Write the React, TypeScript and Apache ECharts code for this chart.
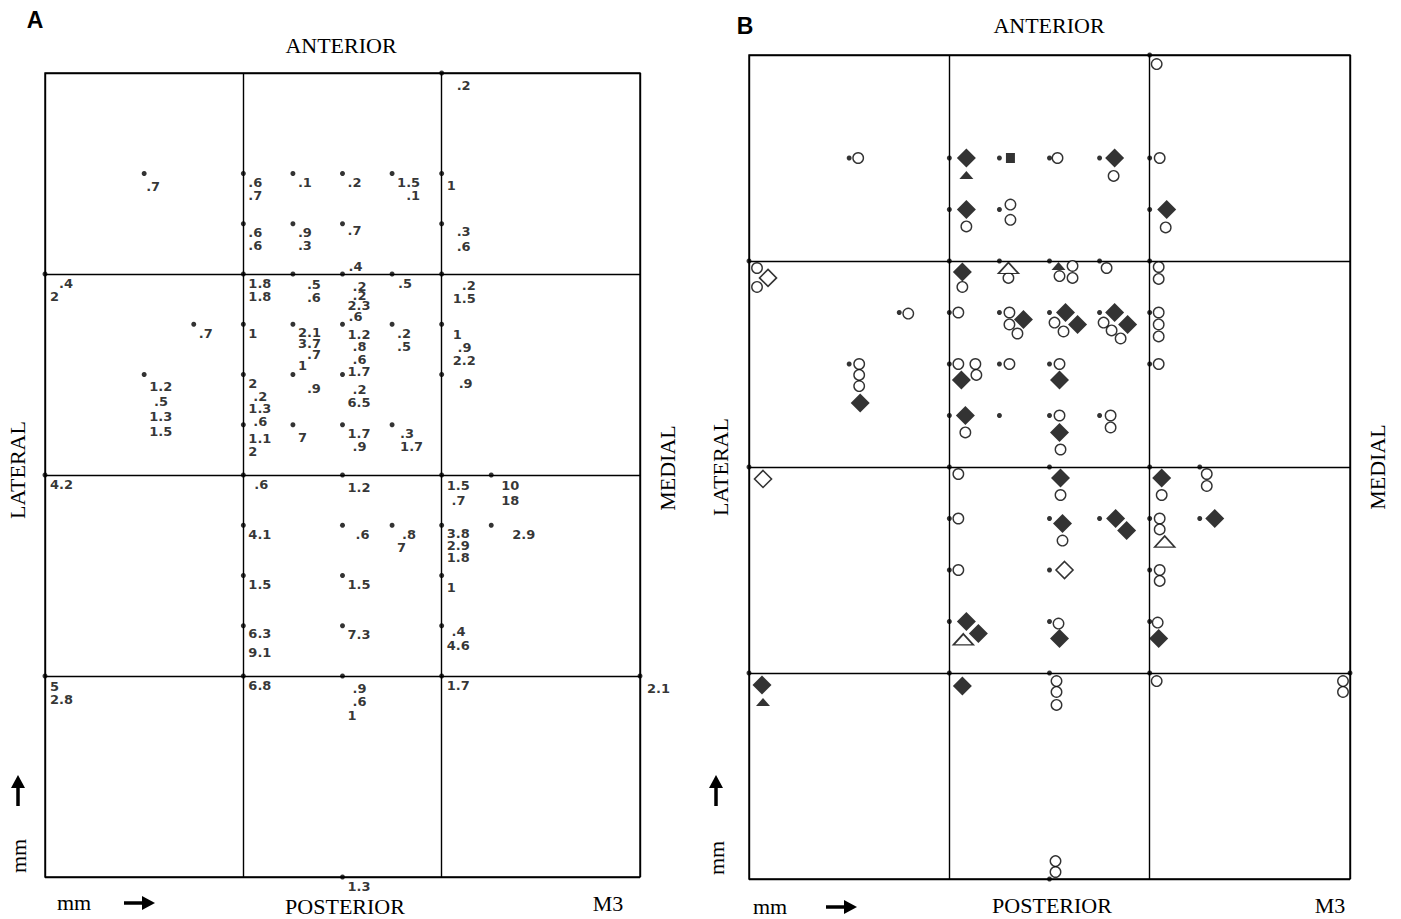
import React, { useEffect, useRef } from "react";
import * as echarts from "echarts";

// ---------- Panel A: sites [x mm lateral->medial, y mm anterior->posterior, values below, values above]
const sitesA: [number, number, string[], string[]?][] = [
  [2, 0, [".2"]],
  [0.5, 0.5, [".7"]],
  [1, 0.5, [".6", ".7"]],
  [1.25, 0.5, [".1"]],
  [1.5, 0.5, [".2"]],
  [1.75, 0.5, ["1.5", "\u2007.1"]],
  [2, 0.5, ["1"]],
  [1, 0.75, [".6", ".6"]],
  [1.25, 0.75, [".9", ".3"]],
  [1.5, 0.75, [".7"]],
  [2, 0.75, [".3", ".6"]],
  [0, 1, ["\u2007.4", "2"]],
  [1, 1, ["1.8", "1.8"]],
  [1.25, 1, [".5", ".6"]],
  [1.5, 1, ["\u2008.2", "\u2008.2", "2.3"], [".4"]],
  [1.75, 1, [".5"]],
  [2, 1, ["\u2007.2", "1.5"]],
  [0.75, 1.25, [".7"]],
  [1, 1.25, ["1"]],
  [1.25, 1.25, ["2.1", "3.7", "\u2007.7", "1"]],
  [1.5, 1.25, ["1.2", "\u2008.8", "\u2008.6", "1.7"], [".6"]],
  [1.75, 1.25, [".2", ".5"]],
  [2, 1.25, ["1", "\u2008.9", "2.2"]],
  [0.5, 1.5, ["1.2", "\u2008.5", "1.3", "1.5"]],
  [1, 1.5, ["2", "\u2008.2", "1.3", "\u2008.6"]],
  [1.25, 1.5, [".9"]],
  [1.5, 1.5, ["\u2008.2", "6.5"]],
  [2, 1.5, [".9"]],
  [1, 1.75, ["1.1", "2"]],
  [1.25, 1.75, ["7"]],
  [1.5, 1.75, ["1.7", "\u2008.9"]],
  [1.75, 1.75, [".3", "1.7"]],
  [0, 2, ["4.2"]],
  [1, 2, [".6"]],
  [1.5, 2, ["1.2"]],
  [2, 2, ["1.5", "\u2008.7"]],
  [2.25, 2, ["10", "18"]],
  [1, 2.25, ["4.1"]],
  [1.5, 2.25, [".6"]],
  [1.75, 2.25, ["\u2008.8", "7"]],
  [2, 2.25, ["3.8", "2.9", "1.8"]],
  [2.25, 2.25, ["2.9"]],
  [1, 2.5, ["1.5"]],
  [1.5, 2.5, ["1.5"]],
  [2, 2.5, ["1"]],
  [1, 2.75, ["6.3", "9.1"]],
  [1.5, 2.75, ["7.3"]],
  [2, 2.75, ["\u2008.4", "4.6"]],
  [0, 3, ["5", "2.8"]],
  [1, 3, ["6.8"]],
  [1.5, 3, ["\u2008.9", "\u2008.6", "1"]],
  [2, 3, ["1.7"]],
  [3, 3, ["2.1"]],
  [1.5, 4, ["1.3"]],
];

// label layout tweaks (px), kept apart from the data: extra x/y shift and line height
const labelTweak: Record<string, { dx?: number; dy?: number; lh?: number }> = {
  "2,0": { dx: 10, dy: 3.5 },
  "0.5,0.5": { dx: -3, dy: 4 },
  "2,0.5": { dy: 3 },
  "2,0.75": { dx: 10, dy: -2, lh: 15 },
  "1.5,0.75": { dy: -2 },
  "1.25,1": { dx: 9, dy: 1 },
  "1.5,1": { dy: 5, lh: 9.5 },
  "1.75,1": { dx: 1 },
  "2,1": { dx: 6, dy: 2 },
  "1.25,1.25": { lh: 11 },
  "1.5,1.25": { lh: 12.3, dy: 1.5 },
  "2,1.25": { dx: 6, dy: 1.5 },
  "2,1.5": { dx: 12 },
  "0.5,1.5": { lh: 15, dy: 2 },
  "1,1.5": { lh: 12.7 },
  "1.25,1.5": { dx: 9, dy: 5 },
  "1.5,1.5": { dy: 6 },
  "1,1.75": { dy: 5 },
  "1.25,1.75": { dy: 4 },
  "1.75,1.75": { dx: 3 },
  "1,2": { dx: 6 },
  "1.5,2": { dy: 3 },
  "2,2": { lh: 15 },
  "2.25,2": { dx: 5, lh: 15 },
  "1.5,2.25": { dx: 8 },
  "2,2.25": { lh: 12 },
  "2.25,2.25": { dx: 16 },
  "2,2.5": { dy: 3 },
  "1,2.75": { lh: 18.7, dy: -4 },
  "2,2.75": { lh: 14.3, dy: -4 },
  "0,3": { lh: 13, dy: 1 },
  "1.5,3": { lh: 13.3, dy: 3.5 },
  "3,3": { dx: 2, dy: 3.5 },
};

// ---------- Panel B: sites with marks [kind, dx mm, dy mm]
// D filled diamond, d open diamond, o open circle, S filled square, T filled triangle, t open triangle
type Kind = "D" | "d" | "o" | "S" | "T" | "t";
const sitesB: [number, number, [Kind, number, number][]][] = [
  [0.5, 0.5, [["o", 0.045, 0]]],
  [1, 0.5, [["D", 0.085, 0], ["T", 0.085, 0.082]]],
  [1.25, 0.5, [["S", 0.055, 0]]],
  [1.5, 0.5, [["o", 0.04, 0]]],
  [1.75, 0.5, [["D", 0.075, 0], ["o", 0.07, 0.087]]],
  [2, 0.5, [["o", 0.05, 0]]],
  [2, 0, [["o", 0.035, 0.044]]],
  [1, 0.75, [["D", 0.085, 0], ["o", 0.085, 0.082]]],
  [1.25, 0.75, [["o", 0.055, -0.024], ["o", 0.055, 0.05]]],
  [2, 0.75, [["D", 0.085, 0], ["o", 0.08, 0.087]]],
  [0, 1, [["o", 0.04, 0.034], ["d", 0.095, 0.082], ["o", 0.04, 0.126]]],
  [1, 1, [["D", 0.065, 0.053], ["o", 0.065, 0.126]]],
  [1.25, 1, [["t", 0.045, 0.034], ["o", 0.045, 0.082]]],
  [1.5, 1, [["T", 0.045, 0.024], ["o", 0.115, 0.024], ["o", 0.05, 0.073], ["o", 0.115, 0.082]]],
  [1.75, 1, [["o", 0.035, 0.034]]],
  [2, 1, [["o", 0.045, 0.029], ["o", 0.045, 0.087]]],
  [0.75, 1.25, [["o", 0.045, 0.005]]],
  [1, 1.25, [["o", 0.045, 0]]],
  [1.25, 1.25, [["o", 0.05, 0], ["o", 0.05, 0.058], ["o", 0.09, 0.102], ["D", 0.12, 0.034]]],
  [1.5, 1.25, [["D", 0.08, 0], ["o", 0.025, 0.049], ["o", 0.07, 0.092], ["D", 0.14, 0.058]]],
  [1.75, 1.25, [["D", 0.075, 0], ["o", 0.02, 0.049], ["o", 0.06, 0.087], ["o", 0.105, 0.126], ["D", 0.14, 0.058]]],
  [2, 1.25, [["o", 0.045, 0], ["o", 0.045, 0.058], ["o", 0.045, 0.116]]],
  [0.5, 1.5, [["o", 0.05, 0], ["o", 0.05, 0.053], ["o", 0.05, 0.107], ["D", 0.055, 0.189]]],
  [1, 1.5, [["o", 0.045, 0], ["o", 0.13, 0], ["o", 0.135, 0.053], ["D", 0.06, 0.078]]],
  [1.25, 1.5, [["o", 0.05, 0]]],
  [1.5, 1.5, [["o", 0.05, 0], ["D", 0.05, 0.078]]],
  [2, 1.5, [["o", 0.045, 0]]],
  [1, 1.75, [["D", 0.08, 0], ["o", 0.08, 0.082]]],
  [1.25, 1.75, []],
  [1.5, 1.75, [["o", 0.05, 0], ["D", 0.05, 0.082], ["o", 0.055, 0.165]]],
  [1.75, 1.75, [["o", 0.055, 0], ["o", 0.055, 0.058]]],
  [0, 2, [["d", 0.07, 0.058]]],
  [1, 2, [["o", 0.045, 0.034]]],
  [1.5, 2, [["D", 0.055, 0.053], ["o", 0.055, 0.136]]],
  [2, 2, [["D", 0.06, 0.053], ["o", 0.06, 0.136]]],
  [2.25, 2, [["o", 0.035, 0.034], ["o", 0.035, 0.092]]],
  [1, 2.25, [["o", 0.045, 0]]],
  [1.5, 2.25, [["D", 0.065, 0.024], ["o", 0.065, 0.107]]],
  [1.75, 2.25, [["D", 0.08, 0], ["D", 0.135, 0.058]]],
  [2, 2.25, [["o", 0.05, 0], ["o", 0.05, 0.053], ["t", 0.075, 0.112]]],
  [2.25, 2.25, [["D", 0.075, 0]]],
  [1, 2.5, [["o", 0.045, 0]]],
  [1.5, 2.5, [["d", 0.075, 0]]],
  [2, 2.5, [["o", 0.05, 0], ["o", 0.05, 0.053]]],
  [1, 2.75, [["D", 0.085, 0], ["D", 0.145, 0.058], ["t", 0.07, 0.087]]],
  [1.5, 2.75, [["o", 0.045, 0.01], ["D", 0.05, 0.082]]],
  [2, 2.75, [["o", 0.04, 0.005], ["D", 0.045, 0.082]]],
  [0, 3, [["D", 0.065, 0.058], ["T", 0.07, 0.141]]],
  [1, 3, [["D", 0.065, 0.063]]],
  [1.5, 3, [["o", 0.035, 0.039], ["o", 0.035, 0.092], ["o", 0.035, 0.155]]],
  [2, 3, [["o", 0.035, 0.039]]],
  [3, 3, [["o", -0.035, 0.039], ["o", -0.035, 0.092]]],
  [1.5, 4, [["o", 0.03, -0.087], ["o", 0.03, -0.034]]],
];

const kindOrder: Kind[] = ["o", "t", "d", "D", "S", "T"];

const SERIF = '"Liberation Serif", "Times New Roman", serif';
const SANS = '"Liberation Sans", Arial, Helvetica, sans-serif';
const NUM = '"DejaVu Sans", "Liberation Sans", sans-serif';

const kindStyle: Record<Kind, any> = {
  D: { symbol: "diamond", symbolSize: [19, 19], itemStyle: { color: "#000" } },
  d: { symbol: "diamond", symbolSize: [17, 17], itemStyle: { color: "#fff", borderColor: "#000", borderWidth: 1.6 } },
  o: { symbol: "circle", symbolSize: 10.5, itemStyle: { color: "#fff", borderColor: "#000", borderWidth: 1.4 } },
  S: { symbol: "rect", symbolSize: [9, 10], itemStyle: { color: "#000" } },
  T: { symbol: "triangle", symbolSize: [14, 8], itemStyle: { color: "#000" } },
  t: { symbol: "triangle", symbolSize: [20, 11], itemStyle: { color: "#fff", borderColor: "#000", borderWidth: 1.6 } },
};

function xAxis(gi: number) {
  return {
    type: "value", gridIndex: gi, min: 0, max: 3, interval: 1,
    axisLine: { show: false }, axisTick: { show: false }, axisLabel: { show: false },
    splitLine: { show: true, lineStyle: { color: "#000", width: 1.4 } },
  };
}
function yAxis(gi: number) {
  return {
    type: "value", gridIndex: gi, min: 0, max: 4, interval: 1, inverse: true,
    axisLine: { show: false }, axisTick: { show: false }, axisLabel: { show: false },
    splitLine: { show: true, lineStyle: { color: "#000", width: 1.4 } },
  };
}

function txt(text: string, x: number, y: number, o: any = {}) {
  return {
    type: "text", x, y, rotation: o.rot || 0, silent: true,
    style: {
      text, x: 0, y: 0, fill: "#000",
      fontSize: o.size || 22, fontFamily: o.family || SERIF, fontWeight: o.weight || "normal",
      align: "center", verticalAlign: "middle", textAlign: "center", textVerticalAlign: "middle",
    },
  };
}
function hArrow(x: number, y: number) {
  return [
    { type: "line", silent: true, shape: { x1: x, y1: y, x2: x + 20, y2: y }, style: { stroke: "#000", lineWidth: 3.5 } },
    { type: "polygon", silent: true, shape: { points: [[x + 18, y - 7], [x + 31, y], [x + 18, y + 7]] }, style: { fill: "#000" } },
  ];
}
function vArrow(x: number, y: number) {
  return [
    { type: "line", silent: true, shape: { x1: x, y1: y, x2: x, y2: y - 20 }, style: { stroke: "#000", lineWidth: 3.5 } },
    { type: "polygon", silent: true, shape: { points: [[x - 7, y - 18], [x, y - 31], [x + 7, y - 18]] }, style: { fill: "#000" } },
  ];
}

function buildOption() {
  const labelBase = {
    fontFamily: NUM, fontWeight: "bold", fontSize: 13, lineHeight: 13, color: "#000",
    align: "left", verticalAlign: "top",
  };
  const series: any[] = [
    {
      type: "scatter", xAxisIndex: 0, yAxisIndex: 0, symbol: "circle", symbolSize: 5, clip: false, silent: true,
      itemStyle: { color: "#000" }, emphasis: { disabled: true },
      data: sitesA.map(([x, y, below]) => {
        const t = labelTweak[`${x},${y}`] || {};
        return {
          value: [x, y],
          txt: below.join("\n"),
          label: { position: [7.5 + (t.dx || 0), 5 + (t.dy || 0)], lineHeight: t.lh || 13 },
        };
      }),
      label: { show: true, position: [7.5, 5], ...labelBase, formatter: (p: any) => p.data.txt },
    },
    {
      type: "scatter", xAxisIndex: 0, yAxisIndex: 0, symbol: "circle", symbolSize: 5, clip: false, silent: true,
      itemStyle: { color: "rgba(0,0,0,0)" }, emphasis: { disabled: true },
      data: sitesA.filter((s) => s[3]).map(([x, y, , above]) => ({ value: [x, y], txt: (above || []).join("\n") })),
      label: { show: true, position: [8.5, 1.5], ...labelBase, verticalAlign: "bottom", formatter: (p: any) => p.data.txt },
    },
    {
      type: "scatter", xAxisIndex: 1, yAxisIndex: 1, symbol: "circle", symbolSize: 5, clip: false, silent: true,
      itemStyle: { color: "#000" }, emphasis: { disabled: true },
      data: sitesB.map(([x, y]) => [x, y]),
    },
  ];
  for (const k of kindOrder) {
    const data: number[][] = [];
    for (const [sx, sy, marks] of sitesB) {
      for (const [kk, dx, dy] of marks) if (kk === k) data.push([sx + dx, sy + dy]);
    }
    series.push({
      type: "scatter", xAxisIndex: 1, yAxisIndex: 1, clip: false, silent: true, emphasis: { disabled: true },
      ...kindStyle[k], data,
    });
  }

  const graphic: any[] = [
    txt("A", 35, 20, { family: SANS, weight: "bold", size: 23 }),
    txt("ANTERIOR", 341, 45),
    txt("POSTERIOR", 345, 906),
    txt("mm", 74, 902),
    txt("M3", 608, 903),
    txt("LATERAL", 17, 470, { rot: Math.PI / 2 }),
    txt("MEDIAL", 667, 468, { rot: Math.PI / 2 }),
    txt("mm", 18, 856, { rot: Math.PI / 2 }),
    ...hArrow(124, 903),
    ...vArrow(18, 806),
    txt("B", 745, 26, { family: SANS, weight: "bold", size: 23 }),
    txt("ANTERIOR", 1049, 25),
    txt("POSTERIOR", 1052, 905),
    txt("mm", 770, 906),
    txt("M3", 1330, 905),
    txt("LATERAL", 720, 467, { rot: Math.PI / 2 }),
    txt("MEDIAL", 1377, 467, { rot: Math.PI / 2 }),
    txt("mm", 716, 858, { rot: Math.PI / 2 }),
    ...hArrow(826, 907),
    ...vArrow(716, 806),
  ];

  return {
    animation: false,
    backgroundColor: "#fff",
    grid: [
      { left: 45, top: 73, width: 595, height: 804, show: true, borderColor: "#000", borderWidth: 1.4, backgroundColor: "rgba(0,0,0,0)" },
      { left: 749, top: 55, width: 601, height: 824, show: true, borderColor: "#000", borderWidth: 1.4, backgroundColor: "rgba(0,0,0,0)" },
    ],
    xAxis: [xAxis(0), xAxis(1)],
    yAxis: [yAxis(0), yAxis(1)],
    series,
    graphic,
  };
}

export default function App() {
  const ref = useRef<HTMLDivElement>(null);
  useEffect(() => {
    const chart = echarts.init(ref.current!, null, { renderer: "svg" });
    chart.setOption(buildOption() as any);
    return () => chart.dispose();
  }, []);
  return (
    <div
      ref={ref}
      style={{ position: "absolute", left: 0, top: 0, width: 1401, height: 919, background: "#fff" }}
    />
  );
}
